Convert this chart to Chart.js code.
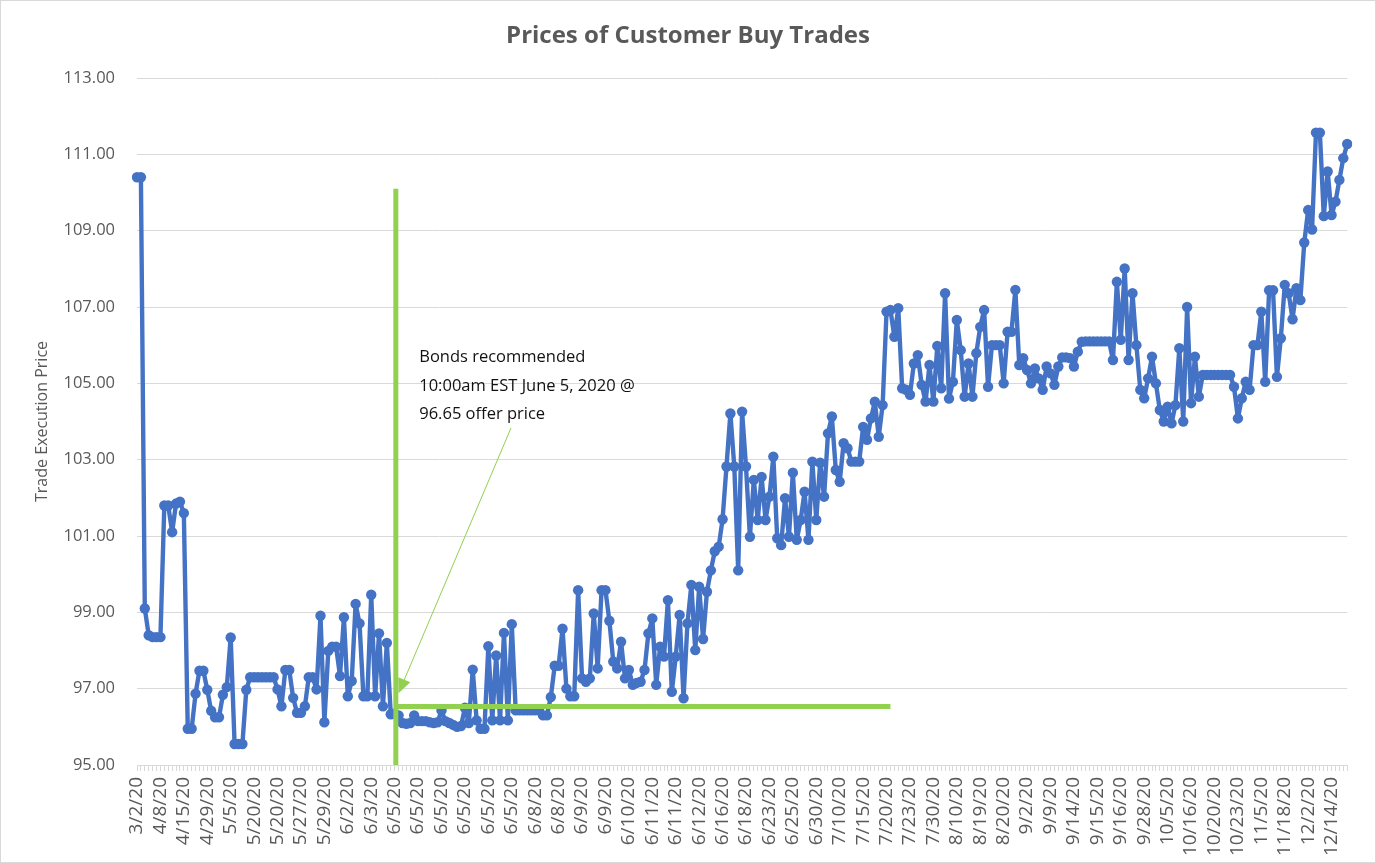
<!DOCTYPE html>
<html>
<head>
<meta charset="utf-8">
<title>Prices of Customer Buy Trades</title>
<script src="https://cdn.jsdelivr.net/npm/chart.js@4.4.1/dist/chart.umd.min.js"></script>
<style>
  html, body { margin: 0; padding: 0; background: #fff; }
  #wrap { position: relative; width: 1376px; height: 863px; }
</style>
</head>
<body>
<div id="wrap"><canvas id="graficoPrecos"></canvas></div>
<script>
// date shown under every 6th trade
const tickLabels = [
  '3/2/20', '4/8/20', '4/15/20', '4/29/20', '5/5/20', '5/20/20', '5/20/20', '5/27/20', '5/29/20', '6/2/20',
  '6/3/20', '6/5/20', '6/5/20', '6/5/20', '6/5/20', '6/5/20', '6/5/20', '6/8/20', '6/8/20', '6/9/20',
  '6/9/20', '6/10/20', '6/11/20', '6/11/20', '6/12/20', '6/16/20', '6/18/20', '6/23/20', '6/25/20', '6/30/20',
  '7/10/20', '7/15/20', '7/20/20', '7/23/20', '7/30/20', '8/10/20', '8/19/20', '8/20/20', '9/2/20', '9/9/20',
  '9/14/20', '9/15/20', '9/16/20', '9/28/20', '10/5/20', '10/16/20', '10/20/20', '10/23/20', '11/5/20', '11/18/20',
  '12/2/20', '12/14/20'
];
const labelEvery = 6;

// execution price of each customer buy trade, in order
const prices = [
  110.4, 110.4, 99.1, 98.4, 98.35, 98.35, 98.35, 101.8, 101.8, 101.1,
  101.85, 101.9, 101.6, 95.95, 95.95, 96.87, 97.47, 97.47, 96.97, 96.42,
  96.25, 96.25, 96.84, 97.04, 98.34, 95.55, 95.55, 95.55, 96.97, 97.3,
  97.3, 97.3, 97.3, 97.3, 97.3, 97.3, 96.98, 96.54, 97.49, 97.49,
  96.76, 96.37, 96.37, 96.54, 97.3, 97.3, 96.98, 98.91, 96.12, 97.99,
  98.1, 98.1, 97.33, 98.87, 96.8, 97.2, 99.22, 98.71, 96.8, 96.8,
  99.46, 96.8, 98.45, 96.54, 98.2, 96.33, 96.35, 96.3, 96.1, 96.08,
  96.1, 96.3, 96.15, 96.15, 96.15, 96.12, 96.1, 96.12, 96.43, 96.15,
  96.1, 96.05, 96.0, 96.02, 96.5, 96.1, 97.5, 96.17, 95.95, 95.95,
  98.11, 96.17, 97.87, 96.17, 98.46, 96.17, 98.69, 96.43, 96.43, 96.43,
  96.43, 96.43, 96.43, 96.43, 96.3, 96.3, 96.78, 97.6, 97.6, 98.57,
  97.0, 96.8, 96.8, 99.58, 97.27, 97.18, 97.27, 98.97, 97.53, 99.58,
  99.58, 98.78, 97.71, 97.53, 98.23, 97.27, 97.49, 97.1, 97.15, 97.18,
  97.49, 98.45, 98.84, 97.1, 98.1, 97.84, 99.32, 96.92, 97.84, 98.93,
  96.75, 98.71, 99.72, 98.01, 99.67, 98.3, 99.54, 100.1, 100.6, 100.72,
  101.44, 102.82, 104.21, 102.82, 100.1, 104.26, 102.82, 100.98, 102.47, 101.42,
  102.55, 101.42, 102.03, 103.08, 100.94, 100.76, 101.99, 100.98, 102.66, 100.9,
  101.42, 102.16, 100.9, 102.95, 101.42, 102.92, 102.03, 103.69, 104.13, 102.73,
  102.42, 103.43, 103.3, 102.95, 102.95, 102.95, 103.86, 103.52, 104.08, 104.52,
  103.6, 104.43, 106.88, 106.92, 106.22, 106.97, 104.87, 104.83, 104.7, 105.52,
  105.74, 104.96, 104.52, 105.48, 104.52, 105.98, 104.87, 107.36, 104.6, 105.04,
  106.66, 105.87, 104.65, 105.52, 104.65, 105.79, 106.48, 106.92, 104.91, 106.0,
  106.0, 106.0, 105.0, 106.35, 106.35, 107.45, 105.48, 105.66, 105.35, 105.0,
  105.39, 105.13, 104.83, 105.44, 105.26, 104.96, 105.44, 105.68, 105.68, 105.66,
  105.44, 105.83, 106.09, 106.1, 106.1, 106.1, 106.1, 106.1, 106.1, 106.1,
  105.61, 107.66, 106.14, 108.01, 105.61, 107.36, 106.0, 104.83, 104.61, 105.13,
  105.7, 105.0, 104.3, 104.0, 104.39, 103.95, 104.43, 105.92, 104.0, 107.0,
  104.48, 105.7, 104.65, 105.22, 105.22, 105.22, 105.22, 105.22, 105.22, 105.22,
  105.22, 104.91, 104.08, 104.61, 105.04, 104.83, 106.0, 106.0, 106.88, 105.04,
  107.44, 107.44, 105.17, 106.18, 107.58, 107.36, 106.68, 107.49, 107.18, 108.69,
  109.54, 109.03, 111.57, 111.57, 109.38, 110.55, 109.41, 109.76, 110.33, 110.9,
  111.27
];

// y axis
const yMin = 95;
const yMax = 113;
const yStep = 2;

const chartTitle = 'Prices of Customer Buy Trades';

// green markers: when the bonds were recommended and the offer level
const recommendAt = 66.3;          // position on the trade axis
const recommendSpan = [95, 110.1]; // price range of the vertical marker
const offerLevel = 96.53;
const offerSpan = [66.3, 193];     // trade positions of the horizontal marker
const calloutLines = ['Bonds recommended', '10:00am EST June 5, 2020 @', '96.65 offer price'];
const calloutAt = [72.3, 105.68];  // trade position / price of first line
const arrowFrom = [95.8, 103.83];
const arrowTo = [67.0, 96.88];

const categorias = prices.map((p, i) => (i % labelEvery === 0 ? tickLabels[i / labelEvery] || '' : ''));

const FONTE = "'Open Sans', 'Liberation Sans', sans-serif";
const VERDE = '#92D050';

const marcadores = {
  id: 'marcadores',
  beforeDraw(chart) {
    const ctx = chart.ctx;
    ctx.save();
    ctx.fillStyle = '#fff';
    ctx.fillRect(0, 0, chart.width, chart.height);
    ctx.strokeStyle = '#d9d9d9';
    ctx.lineWidth = 1;
    ctx.strokeRect(0.5, 0.5, chart.width - 1, chart.height - 1);

    // title centred on the whole canvas
    ctx.fillStyle = '#595959';
    ctx.font = `bold 24px ${FONTE}`;
    ctx.textAlign = 'center';
    ctx.textBaseline = 'middle';
    ctx.fillText(chartTitle, chart.width / 2, 36);
    ctx.restore();
  },
  afterDatasetsDraw(chart) {
    const { ctx, scales: { x, y } } = chart;
    ctx.save();

    ctx.strokeStyle = VERDE;
    ctx.lineWidth = 5;
    ctx.beginPath();
    ctx.moveTo(x.getPixelForValue(recommendAt), y.getPixelForValue(recommendSpan[0]));
    ctx.lineTo(x.getPixelForValue(recommendAt), y.getPixelForValue(recommendSpan[1]));
    ctx.stroke();

    ctx.beginPath();
    ctx.moveTo(x.getPixelForValue(offerSpan[0]), y.getPixelForValue(offerLevel));
    ctx.lineTo(x.getPixelForValue(offerSpan[1]), y.getPixelForValue(offerLevel));
    ctx.stroke();

    // callout arrow
    const x1 = x.getPixelForValue(arrowFrom[0]), y1 = y.getPixelForValue(arrowFrom[1]);
    const x2 = x.getPixelForValue(arrowTo[0]), y2 = y.getPixelForValue(arrowTo[1]);
    const ang = Math.atan2(y2 - y1, x2 - x1);
    const cab = 16;
    ctx.lineWidth = 1;
    ctx.beginPath();
    ctx.moveTo(x1, y1);
    ctx.lineTo(x2 - Math.cos(ang) * cab * 0.8, y2 - Math.sin(ang) * cab * 0.8);
    ctx.stroke();
    ctx.fillStyle = VERDE;
    ctx.beginPath();
    ctx.moveTo(x2, y2);
    ctx.lineTo(x2 - cab * Math.cos(ang - 0.42), y2 - cab * Math.sin(ang - 0.42));
    ctx.lineTo(x2 - cab * Math.cos(ang + 0.42), y2 - cab * Math.sin(ang + 0.42));
    ctx.closePath();
    ctx.fill();

    // callout text
    ctx.fillStyle = '#111';
    ctx.font = `16.5px ${FONTE}`;
    ctx.textAlign = 'left';
    ctx.textBaseline = 'middle';
    const tx = x.getPixelForValue(calloutAt[0]);
    const ty = y.getPixelForValue(calloutAt[1]);
    calloutLines.forEach((linha, i) => ctx.fillText(linha, tx, ty + i * 28.5));

    ctx.restore();
  }
};

const ctx = document.getElementById('graficoPrecos').getContext('2d');

new Chart(ctx, {
  type: 'line',
  data: {
    labels: categorias,
    datasets: [{
      label: 'Trade Execution Price',
      data: prices,
      borderColor: '#4472C4',
      backgroundColor: '#4472C4',
      pointBackgroundColor: '#4472C4',
      pointBorderColor: '#4472C4',
      pointRadius: 5.2,
      pointBorderWidth: 0,
      borderWidth: 4.4,
      borderJoinStyle: 'round',
      borderCapStyle: 'round',
      tension: 0
    }]
  },
  options: {
    responsive: true,
    maintainAspectRatio: false,
    animation: false,
    layout: { padding: { left: 0, right: 26, top: 78, bottom: 0 } },
    plugins: {
      legend: { display: false },
      tooltip: { enabled: false },
      title: { display: false }
    },
    scales: {
      x: {
        type: 'category',
        offset: false,
        grid: { drawOnChartArea: false, drawTicks: true, tickLength: 6, color: '#d9d9d9' },
        border: { color: '#d9d9d9', width: 1 },
        ticks: {
          autoSkip: false,
          minRotation: 90,
          maxRotation: 90,
          padding: 6,
          color: '#595959',
          font: { family: FONTE, size: 19 },
          callback: (v, i) => categorias[i]
        },
        afterFit: s => { s.height = 98; }
      },
      y: {
        min: yMin,
        max: yMax,
        grid: { color: '#d9d9d9', drawTicks: false },
        border: { display: false },
        ticks: {
          stepSize: yStep,
          padding: 22,
          color: '#595959',
          font: { family: FONTE, size: 16.5 },
          callback: v => v.toFixed(2)
        },
        title: {
          display: true,
          text: 'Trade Execution Price',
          color: '#595959',
          font: { family: FONTE, size: 16 },
          padding: { top: 33, bottom: 0 }
        },
        afterFit: s => { s.width = 137; }
      }
    }
  },
  plugins: [marcadores]
});
</script>
</body>
</html>
